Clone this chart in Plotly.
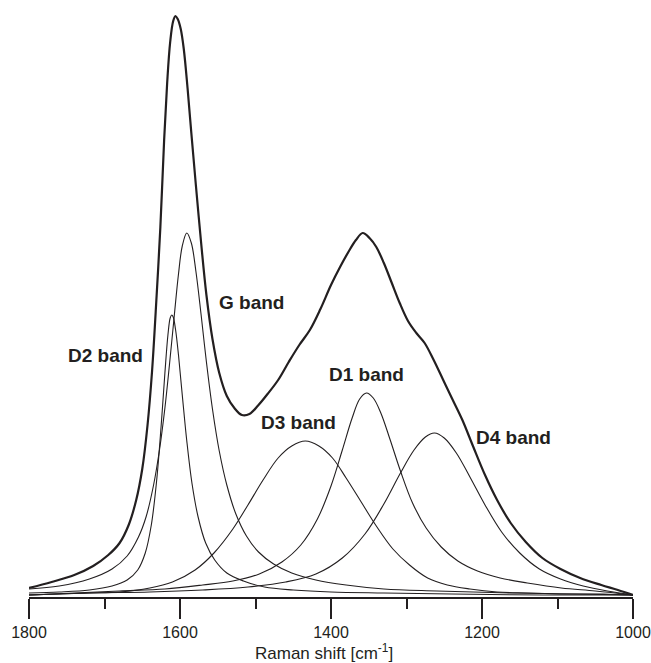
import plotly.graph_objects as go

# Raman shift positions (cm^-1) and intensities (a.u.)
g_band_x = [1800,1760,1720,1690,1670,1655,1645,1635,1627,1620,1614,1608,1602,1597,1591,1585,1579,1572,1565,1557,1548,1538,1526,1512,1496,1476,1452,1420,1380,1330,1260,1160,1000]
g_band_y = [6,9,16,26,39,58,78,110,146,187,230,276,321,349,362,352,324,280,233,186,144,110,81,59,43,31,22,15,10,6,4,2,0]

d2_band_x = [1800,1760,1720,1690,1670,1656,1646,1638,1631,1625,1620,1616,1613,1611,1609,1606,1602,1597,1591,1584,1576,1566,1554,1538,1516,1488,1450,1400,1330,1240,1120,1000]
d2_band_y = [2,3,5,9,15,25,42,70,114,169,222,260,277,280,278,266,240,200,154,111,78,52,35,22,14,8,5,3,2,1,0,0]

d3_band_x = [1800,1760,1720,1680,1640,1610,1580,1555,1530,1510,1490,1470,1452,1434,1416,1398,1380,1360,1340,1318,1296,1272,1246,1216,1180,1140,1090,1040,1000]
d3_band_y = [0,1,2,3,7,13,25,42,66,90,115,137,149,154,149,137,117,93,69,46,30,17,10,6,3,2,1,1,0]

d1_band_x = [1800,1740,1680,1620,1570,1530,1495,1465,1440,1418,1400,1385,1372,1362,1353,1344,1334,1322,1308,1292,1274,1254,1232,1206,1176,1140,1095,1050,1000]
d1_band_y = [0,2,4,6,10,14,21,33,50,76,109,145,177,196,202,197,182,156,124,92,67,48,34,24,17,12,7,4,0]

d4_band_x = [1800,1720,1640,1570,1510,1460,1420,1385,1355,1330,1308,1290,1275,1263,1250,1234,1216,1196,1174,1150,1124,1096,1066,1034,1000]
d4_band_y = [0,2,3,5,8,13,21,37,61,91,122,145,158,162,157,142,118,90,63,42,26,16,9,4,0]

total_x = [1800,1770,1740,1715,1695,1680,1668,1658,1650,1643,1637,1631,1626,1621,1617,1613,1609,1606,1603,1599,1595,1590,1585,1579,1572,1565,1557,1548,1538,1528,1518,1508,1496,1484,1470,1456,1442,1428,1414,1400,1388,1377,1367,1358,1349,1340,1330,1320,1309,1298,1287,1276,1264,1252,1240,1226,1212,1196,1180,1162,1142,1120,1096,1070,1042,1020,1000]
total_y = [7,13,20,29,40,52,70,95,126,170,224,299,368,455,512,553,574,579,576,566,546,507,462,410,352,300,256,222,199,187,180,181,190,201,215,233,250,265,286,310,328,343,355,362,357,348,332,313,292,274,262,252,235,216,197,175,149,120,95,72,53,37,26,17,10,5,0]

x_ticks = [1800, 1600, 1400, 1200, 1000]
x_minor_ticks = [1700, 1500, 1300, 1100]
band_labels = ["D2 band", "G band", "D1 band", "D3 band", "D4 band"]
x_title = "Raman shift [cm<sup>-1</sup>]"

ink = "#231f20"
fig = go.Figure()
for bx, by in [(g_band_x, g_band_y), (d2_band_x, d2_band_y), (d3_band_x, d3_band_y), (d1_band_x, d1_band_y), (d4_band_x, d4_band_y)]:
    fig.add_trace(go.Scatter(x=bx, y=by, mode="lines", line=dict(color=ink, width=1.1, shape="spline"), showlegend=False, hoverinfo="skip"))
fig.add_trace(go.Scatter(x=total_x, y=total_y, mode="lines", line=dict(color=ink, width=2.2, shape="spline"), showlegend=False, hoverinfo="skip"))

label_pos = [(1699, 240), (1505, 293), (1353, 221), (1443, 173), (1158, 157.5)]
for t, (x, y) in zip(band_labels, label_pos):
    fig.add_annotation(x=x, y=y, text="<b>%s</b>" % t, showarrow=False,
                       font=dict(family="Liberation Sans, Arial", size=19, color=ink))

fig.add_annotation(xref="paper", yref="paper", x=0.488, y=-0.093, xanchor="center", yanchor="middle",
                   text=x_title, showarrow=False, font=dict(family="Liberation Sans, Arial", size=17, color=ink))

fig.update_layout(
    width=651, height=663, margin=dict(l=29, r=18, t=10, b=66),
    plot_bgcolor="white", paper_bgcolor="white",
    font=dict(family="Liberation Sans, Arial", color=ink),
    xaxis=dict(range=[1800, 1000], showline=True, linecolor=ink, linewidth=1.5, ticks="outside", ticklen=20, tickwidth=1.5, tickcolor=ink,
               tickvals=x_ticks, tickfont=dict(size=16, color=ink), showgrid=False, zeroline=False,
               minor=dict(tickvals=x_minor_ticks, ticks="outside", ticklen=10, tickwidth=1.5, tickcolor=ink, showgrid=False),
               automargin=False),
    yaxis=dict(visible=False, range=[-2, 585]),
)
fig.write_html("out.html", config={"displayModeBar": False}, post_script="document.body.style.margin='0px';")
